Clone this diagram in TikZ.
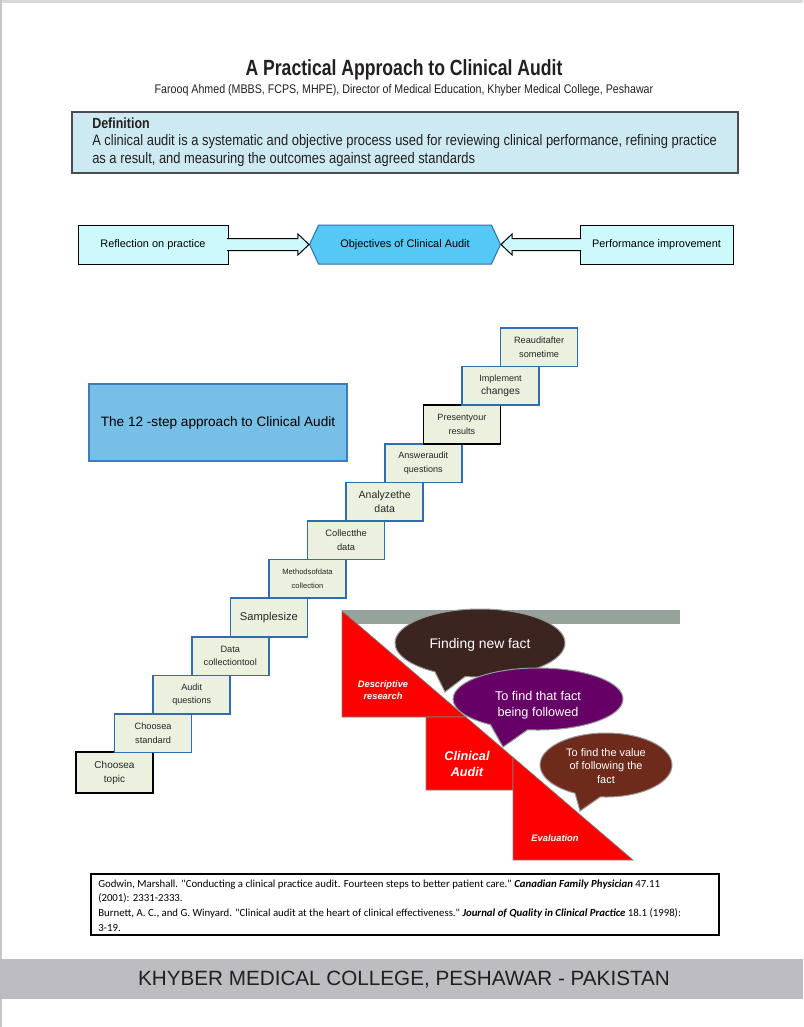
\documentclass[tikz,border=0pt]{standalone}
\usepackage{fontspec}
\setmainfont{Liberation Sans}
\newfontfamily\titlefont[FakeStretch=0.8]{Liberation Sans}
\newfontfamily\narrowfont[FakeStretch=0.85]{Liberation Sans}
\newfontfamily\refsfont{Carlito}
\usetikzlibrary{shapes.symbols,calc}

\definecolor{inktext}{HTML}{231F20}
\definecolor{stepfill}{HTML}{EBF1DE}
\definecolor{stepline}{HTML}{2F6DAE}
\definecolor{deffill}{HTML}{CDEAF2}
\definecolor{boxfill}{HTML}{CCFAFC}
\definecolor{objfill}{HTML}{55C8F5}
\definecolor{objline}{HTML}{2A6FB0}
\definecolor{introfill}{HTML}{77BFE7}
\definecolor{introline}{HTML}{3C7DBF}
\definecolor{barfill}{HTML}{95A39A}
\definecolor{factone}{HTML}{3C2420}
\definecolor{facttwo}{HTML}{660066}
\definecolor{factthree}{HTML}{6E2B1C}
\definecolor{footfill}{HTML}{BDBDC1}

\tikzset{
  stepbox/.style={draw=#1, line width=1.1pt, fill=stepfill, text=black!85,
    minimum width=57.75pt, minimum height=28.95pt, inner sep=0pt, align=center},
  sidebox/.style={draw=black, line width=0.75pt, fill=boxfill, inner sep=0pt,
    minimum height=29.25pt, font=\fontsize{8.2}{10}\selectfont},
  blockarrow/.style={fill=boxfill, draw=black, line width=0.75pt},
  redpart/.style={fill=red, draw=gray, line width=0.5pt},
  bubble/.style={fill=#1, draw=gray!80, line width=0.75pt},
  facttext/.style={text=white, align=center},
  redtext/.style={text=white, align=center, font=\bfseries\itshape}
}

\begin{document}
\begin{tikzpicture}[x=0.75pt, y=-0.75pt]
\useasboundingbox (0,0) rectangle (803,1027);
\fill[gray!30] (0,0) rectangle (803,3);
\fill[gray!45] (0,0) rectangle (1.5,1027);

% heading
\node[text=inktext, font=\titlefont\bfseries\fontsize{16.5}{18}\selectfont] (title) at (404,70) {A Practical Approach to Clinical Audit};
\node[text=inktext, font=\narrowfont\fontsize{9.4}{11}\selectfont] (author) at (404,90) {Farooq Ahmed (MBBS, FCPS, MHPE), Director of Medical Education, Khyber Medical College, Peshawar};

% definition
\node[draw=black!70, line width=0.9pt, fill=deffill, minimum width=499.5pt, minimum height=45.75pt] (def) at (405,142.5) {};
\node[anchor=west, text=inktext, font=\narrowfont\bfseries\fontsize{11}{13}\selectfont, inner sep=0pt] (deftitle) at (92,123) {Definition};
\node[anchor=west, text=inktext, align=left, font=\narrowfont\fontsize{11.4}{13.5}\selectfont, inner sep=0pt] (deftext) at (92,150.5)
  {A clinical audit is a systematic and objective process used for reviewing clinical performance, refining practice\\
   as a result, and measuring the outcomes against agreed standards};

% objectives
\node[sidebox, minimum width=112.5pt] (reflect) at (153,244.5) {Reflection on practice};
\node[draw=objline, line width=0.75pt, fill=objfill, signal, signal to=west and east, signal pointer angle=130,
  minimum width=143.25pt, minimum height=29.25pt, inner sep=0pt, font=\fontsize{8.2}{10}\selectfont] (objectives) at (405,244.5) {Objectives of Clinical Audit};
\node[sidebox, minimum width=114.75pt] (perform) at (656.5,244.5) {Performance improvement};

\filldraw[blockarrow] ($(reflect.east)+(-1.5,-6)$) -- ($(objectives.west)+(-11,-6)$) -- ($(objectives.west)+(-11,-10.5)$)
  -- (objectives.west) -- ($(objectives.west)+(-11,10.5)$) -- ($(objectives.west)+(-11,6)$) -- ($(reflect.east)+(-1.5,6)$);
\filldraw[blockarrow] ($(perform.west)+(1.5,-6)$) -- ($(objectives.east)+(11,-6)$) -- ($(objectives.east)+(11,-10.5)$)
  -- (objectives.east) -- ($(objectives.east)+(11,10.5)$) -- ($(objectives.east)+(11,6)$) -- ($(perform.west)+(1.5,6)$);

% twelve steps
\node[draw=introline, line width=1pt, fill=introfill, minimum width=193.5pt, minimum height=57.75pt,
  font=\fontsize{10.2}{12}\selectfont] (intro) at (218,422.5) {The 12 -step approach to Clinical Audit};

\node[stepbox=black, minimum height=30.75pt, font=\fontsize{7.5}{10.5}\selectfont] (s1) at (114.5,772.5) {Choosea\\topic};
\foreach \i/\col/\sz/\txt in {2/stepline/6.9/{Choosea\\standard}, 3/stepline/6.8/{Audit\\questions},
    4/stepline/6.9/{Data\\collectiontool}, 5/stepline/8.4/{Samplesize}, 6/stepline/5.7/{Methodsofdata\\collection},
    7/stepline/7/{Collectthe\\data}, 8/stepline/7.9/{Analyzethe\\data}, 9/stepline/6.8/{Answeraudit\\questions},
    10/black/6.8/{Presentyour\\results}, 11/stepline/6.8/{Implement\\{\fontsize{7.7}{10}\selectfont changes}},
    12/stepline/6.9/{Reauditafter\\sometime}}
  \node[stepbox=\col, font=\fontsize{\sz}{10}\selectfont] (s\i) at ({114.5+38.6*(\i-1)},{733.3-38.6*(\i-2)}) {\txt};

% research, audit, evaluation
\fill[barfill] (342,610) rectangle (680,624);
\filldraw[redpart] (342,611) -- (342,717) -- (465.9,717) -- cycle;
\filldraw[redpart] (426,717) -- (465.9,717) -- (513,757.3) -- (513,790) -- (426,790) -- cycle;
\filldraw[redpart] (513,757.3) -- (513,860) -- (633,860) -- cycle;
\node[redtext, font=\bfseries\itshape\fontsize{7}{9.5}\selectfont] (descr) at (383,690) {Descriptive\\research};
\node[redtext, font=\bfseries\itshape\fontsize{9.5}{12}\selectfont] (audit) at (467,764) {Clinical\\Audit};
\node[redtext, font=\bfseries\itshape\fontsize{7}{9}\selectfont] (evaluation) at (555,838) {Evaluation};

\filldraw[bubble=factone] (480,643) ++(100:85 and 34) arc[start angle=100, end angle=-238, x radius=85, y radius=34] -- (445,692) -- cycle;
\node[facttext, font=\fontsize{10.4}{12}\selectfont] (fact1) at (480,645) {Finding new fact};
\filldraw[bubble=facttwo] (538,699) ++(97:85 and 31) arc[start angle=97, end angle=-236, x radius=85, y radius=31] -- (503,747) -- cycle;
\node[facttext, font=\fontsize{9.5}{12}\selectfont] (fact2) at (538,705) {To find that fact\\being followed};
\filldraw[bubble=factthree] (606,765) ++(95:66 and 32) arc[start angle=95, end angle=-242, x radius=66, y radius=32] -- (580,811) -- cycle;
\node[facttext, font=\fontsize{8.2}{10}\selectfont] (fact3) at (606,766) {To find the value\\of following the\\fact};

% references
\node[draw=black, line width=0.9pt, fill=white, minimum width=471pt, minimum height=45.75pt] (refs) at (405,904.5) {};
\node[anchor=west, align=left, inner sep=0pt, font=\refsfont\fontsize{8.1}{10.9}\selectfont] (reftext) at (98,905.5)
  {Godwin, Marshall. "Conducting a clinical practice audit. Fourteen steps to better patient care." \textbf{\textit{Canadian Family Physician}} 47.11\\
   (2001): 2331-2333.\\
   Burnett, A. C., and G. Winyard. "Clinical audit at the heart of clinical effectiveness." \textbf{\textit{Journal of Quality in Clinical Practice}} 18.1 (1998):\\
   3-19.};

% footer
\fill[footfill] (0,959) rectangle (803,999);
\node[text=inktext, font=\fontsize{15.5}{18}\selectfont] (college) at (404,980) {KHYBER MEDICAL COLLEGE, PESHAWAR - PAKISTAN};
\end{tikzpicture}
\end{document}
